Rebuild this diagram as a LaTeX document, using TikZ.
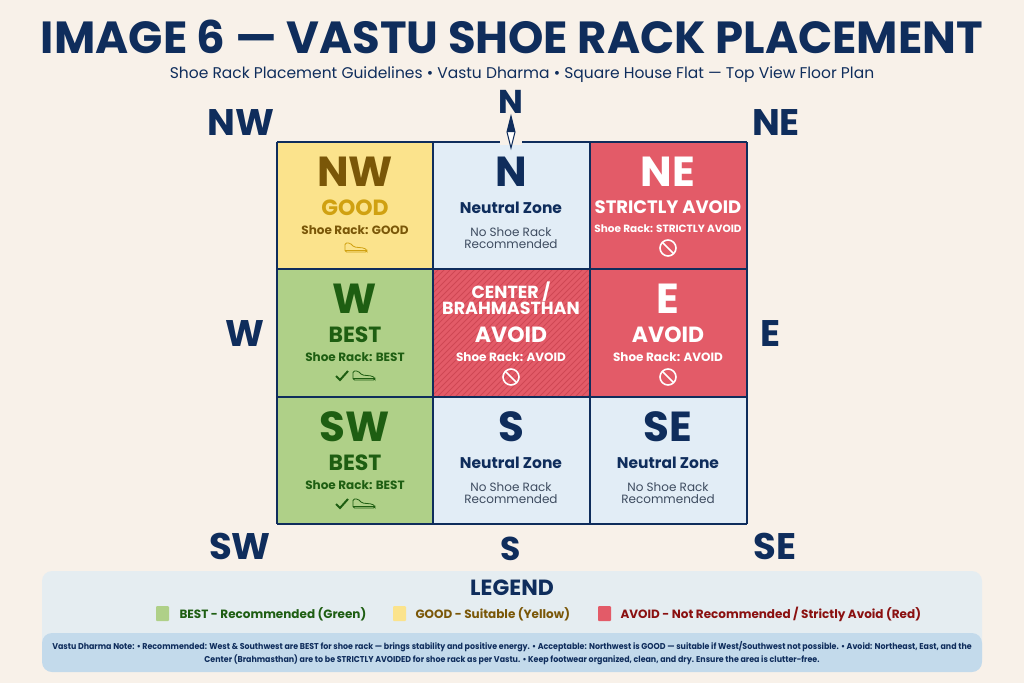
\documentclass[tikz,border=0pt]{standalone}
\usepackage{fontspec}
\setmainfont{Poppins}[BoldFont={* Bold}]
\begin{document}
\begin{tikzpicture}[x=1pt,y=-1pt,
  big/.style={font=\fontsize{42}{44}\selectfont\bfseries},
  mid/.style={font=\fontsize{22}{24}\selectfont\bfseries},
  sm/.style={font=\fontsize{12}{13}\selectfont\bfseries},
  nz/.style={font=\fontsize{15.5}{17}\selectfont\bfseries,text=navy},
  sub/.style={font=\fontsize{12}{14}\selectfont,align=center,text=subtxt},
  dir/.style={font=\fontsize{37}{39}\selectfont\bfseries,text=navy}]
\definecolor{bg}{HTML}{F8F1E9}
\definecolor{navy}{HTML}{0F2D5C}
\definecolor{ylw}{HTML}{FBE38C}
\definecolor{grn}{HTML}{AFD088}
\definecolor{rd}{HTML}{E35B68}
\definecolor{rdd}{HTML}{CF4754}
\definecolor{blu}{HTML}{E2EDF6}
\definecolor{ybrown}{HTML}{7A5708}
\definecolor{ygold}{HTML}{D0A111}
\definecolor{dgrn}{HTML}{1E5E12}
\definecolor{subtxt}{HTML}{3E4C60}
\definecolor{legbg}{HTML}{E5EDF1}
\definecolor{notebg}{HTML}{C3DAEB}
\definecolor{dred}{HTML}{8A1010}
\useasboundingbox (0,0) rectangle (1024,683);
\fill[bg] (0,0) rectangle (1024,683);
\node[font=\fontsize{45}{47}\selectfont\bfseries,text=navy,inner sep=0pt] (title) at (512,37) {IMAGE 6 — VASTU SHOE RACK PLACEMENT};
\node[font=\fontsize{15.5}{17}\selectfont,text=navy,inner sep=0pt] (subt) at (522,75) {Shoe Rack Placement Guidelines • Vastu Dharma • Square House Flat — Top View Floor Plan};
% cells
\fill[ylw] (277,142) rectangle (433,269);
\fill[blu] (433,142) rectangle (590,269);
\fill[rd] (590,142) rectangle (747,269);
\fill[grn] (277,269) rectangle (433,397);
\fill[rd] (433,269) rectangle (590,397);
\begin{scope}
\clip (433,269) rectangle (590,397);
\foreach \i in {0,6,...,300} {\draw[rdd,line width=0.8pt] (433+\i,269) -- (433+\i-140,409);}
\end{scope}
\fill[rd] (590,269) rectangle (747,397);
\fill[grn] (277,397) rectangle (433,524);
\fill[blu] (433,397) rectangle (590,524);
\fill[blu] (590,397) rectangle (747,524);
\foreach \x in {277,433,590,747} \draw[navy,line width=2pt] (\x,142) -- (\x,524);
\foreach \y in {142,269,397,524} \draw[navy,line width=2pt] (277,\y) -- (747,\y);
% compass
\fill[bg] (500,139) rectangle (522,145);
\node[font=\fontsize{33}{35}\selectfont\bfseries,text=navy] (ntop) at (511,102) {N};
\draw[navy,fill=white,line width=1pt] (511,116) -- (515,132) -- (511,148) -- (507,132) -- cycle;
\fill[navy] (511,116) -- (515,132) -- (507,132) -- cycle;
% direction labels
\node[dir] (lnw) at (241,123) {NW};
\node[dir] (lne) at (776,123) {NE};
\node[dir] (lw) at (245,334) {W};
\node[dir] (le) at (770,334) {E};
\node[dir] (lsw) at (240,546) {SW};
\node[font=\fontsize{33}{35}\selectfont\bfseries,text=navy] (ls) at (511,549) {S};
\node[dir] (lse) at (775,546) {SE};
% NW
\node[big,text=ybrown,inner sep=0pt] (c1a) at (355,172) {NW};
\node[mid,text=ygold,inner sep=0pt] (c1b) at (355,208) {GOOD};
\node[sm,text=ybrown] (c1c) at (355,230) {Shoe Rack: GOOD};
\newcommand\shoe[3]{\draw[#3,line width=0.8pt,rounded corners=1.5pt] (#1-11,#2+4) -- (#1-11,#2-5) -- (#1-6,#2-5) -- (#1-2,#2-1) -- (#1+8,#2) -- (#1+11,#2+2) -- (#1+11,#2+4) -- cycle; \draw[#3,line width=0.6pt] (#1-11,#2+2) -- (#1+11,#2+2);}
\shoe{356}{248}{ygold}
% N
\node[big,text=navy,inner sep=0pt] (c2a) at (511,172) {N};
\node[nz] (c2b) at (511,208) {Neutral Zone};
\node[sub] (c2c) at (511,238) {No Shoe Rack\\[-2pt]Recommended};
% NE
\node[big,text=white,inner sep=0pt] (c3a) at (668,172) {NE};
\node[font=\fontsize{18}{20}\selectfont\bfseries,text=white] (c3b) at (668,207) {STRICTLY AVOID};
\node[font=\fontsize{10.5}{12}\selectfont\bfseries,text=white] (c3c) at (668,229) {Shoe Rack: STRICTLY AVOID};
\newcommand\noent[2]{\draw[white,line width=1.6pt] (#1,#2) circle (8); \draw[white,line width=1.6pt] (#1-5.6,#2-5.6) -- (#1+5.6,#2+5.6);}
\noent{668}{248}
% W
\node[big,text=dgrn,inner sep=0pt] (c4a) at (355,299) {W};
\node[mid,text=dgrn,inner sep=0pt] (c4b) at (355,335) {BEST};
\node[sm,text=dgrn] (c4c) at (355,357) {Shoe Rack: BEST};
\draw[dgrn,line width=2pt] (336,376) -- (340,380) -- (348,371);
\shoe{364}{376}{dgrn}
% Center
\node[font=\fontsize{17.5}{19}\selectfont\bfseries,text=white,align=center] (c5a) at (511,298) {CENTER /\\[-3pt]BRAHMASTHAN};
\node[mid,text=white,inner sep=0pt] (c5b) at (511,335) {AVOID};
\node[sm,text=white] (c5c) at (511,357) {Shoe Rack: AVOID};
\noent{511}{377}
% E
\node[big,text=white,inner sep=0pt] (c6a) at (668,299) {E};
\node[mid,text=white,inner sep=0pt] (c6b) at (668,335) {AVOID};
\node[sm,text=white] (c6c) at (668,357) {Shoe Rack: AVOID};
\noent{668}{377}
% SW
\node[big,text=dgrn,inner sep=0pt] (c7a) at (355,427) {SW};
\node[mid,text=dgrn,inner sep=0pt] (c7b) at (355,463) {BEST};
\node[sm,text=dgrn] (c7c) at (355,485) {Shoe Rack: BEST};
\draw[dgrn,line width=2pt] (336,504) -- (340,508) -- (348,499);
\shoe{364}{504}{dgrn}
% S
\node[big,text=navy,inner sep=0pt] (c8a) at (511,427) {S};
\node[nz] (c8b) at (511,463) {Neutral Zone};
\node[sub] (c8c) at (511,493) {No Shoe Rack\\[-2pt]Recommended};
% SE
\node[big,text=navy,inner sep=0pt] (c9a) at (668,427) {SE};
\node[nz] (c9b) at (668,463) {Neutral Zone};
\node[sub] (c9c) at (668,493) {No Shoe Rack\\[-2pt]Recommended};
% legend
\fill[legbg,rounded corners=10pt] (42,571) rectangle (982,668);
\node[font=\fontsize{22}{24}\selectfont\bfseries,text=navy] (leg) at (512,588) {LEGEND};
\fill[grn,rounded corners=1pt] (156,606) rectangle (169,621);
\node[anchor=west,font=\fontsize{12}{14}\selectfont\bfseries,text=dgrn] (l1) at (176,614) {BEST - Recommended (Green)};
\fill[ylw,rounded corners=1pt] (393,606) rectangle (406,621);
\node[anchor=west,font=\fontsize{12}{14}\selectfont\bfseries,text=ybrown] (l2) at (412,614) {GOOD - Suitable (Yellow)};
\fill[rd,rounded corners=1pt] (598,606) rectangle (611,621);
\node[anchor=west,font=\fontsize{12}{14}\selectfont\bfseries,text=dred] (l3) at (617,614) {AVOID - Not Recommended / Strictly Avoid (Red)};
\fill[notebg,rounded corners=10pt] (42,633) rectangle (982,672);
\node[font=\fontsize{8.5}{13}\selectfont\bfseries,text=navy,align=center] (note) at (512,653) {\scalebox{0.93}[1]{Vastu Dharma Note: • Recommended: West \& Southwest are BEST for shoe rack — brings stability and positive energy. • Acceptable: Northwest is GOOD — suitable if West/Southwest not possible. • Avoid: Northeast, East, and the}\\\scalebox{0.93}[1]{Center (Brahmasthan) are to be STRICTLY AVOIDED for shoe rack as per Vastu. • Keep footwear organized, clean, and dry. Ensure the area is clutter-free.}};
\end{tikzpicture}
\end{document}
